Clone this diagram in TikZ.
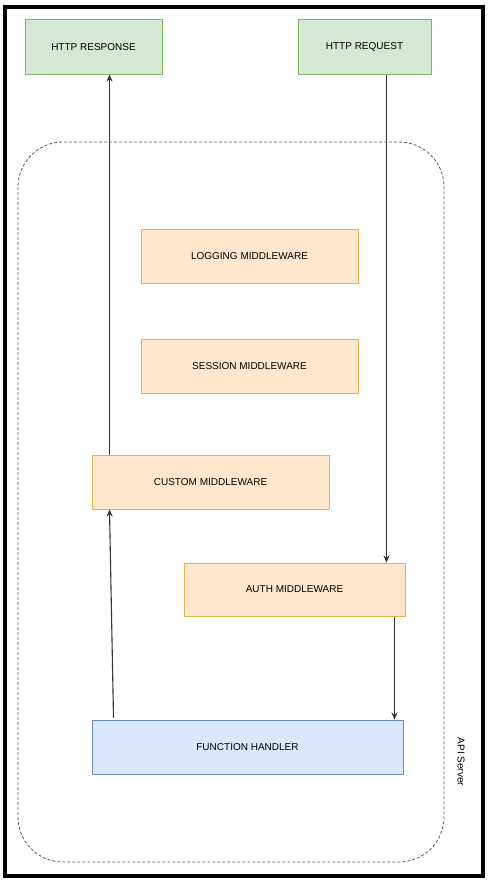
\documentclass[tikz,border=0pt]{standalone}
\usepackage{fontspec}
\setmainfont{Liberation Sans}
\usetikzlibrary{arrows.meta}
\definecolor{gfill}{HTML}{D5E8D4}
\definecolor{gline}{HTML}{82B366}
\definecolor{ofill}{HTML}{FFE6CC}
\definecolor{oline}{HTML}{E5B54A}
\definecolor{bfill}{HTML}{DAE8FC}
\definecolor{bline}{HTML}{6C8EBF}
\begin{document}
\begin{tikzpicture}[x=1pt,y=-1pt,
  box/.style={draw, line width=1pt, inner sep=0pt, font=\fontsize{10}{12}\selectfont},
  greenbox/.style={box, fill=gfill, draw=gline},
  orangebox/.style={box, fill=ofill, draw=oline},
  bluebox/.style={box, fill=bfill, draw=bline},
  conn/.style={draw=black!80, line width=1.1pt, -{Stealth[length=7pt,width=6pt]}}]
\useasboundingbox (0,0) rectangle (490,883);
\fill[white] (0,0) rectangle (490,883);
\draw[line width=3.5pt] (5,7) rectangle (483,876);
\draw[black!65, line width=0.8pt, dash pattern=on 3pt off 2pt, rounded corners=45pt] (18,142) rectangle (444,862);
\node[greenbox, minimum width=137pt, minimum height=54pt] (resp) at (93.5,47) {HTTP RESPONSE};
\node[greenbox, minimum width=133pt, minimum height=54pt] (req) at (364.5,47) {HTTP REQUEST};
\node[orangebox, minimum width=217pt, minimum height=54pt] (log) at (249.5,256) {LOGGING MIDDLEWARE};
\node[orangebox, minimum width=217pt, minimum height=54pt] (sess) at (249.5,366) {SESSION MIDDLEWARE};
\node[orangebox, minimum width=237pt, minimum height=54pt] (cust) at (210.5,482) {CUSTOM MIDDLEWARE};
\node[orangebox, minimum width=221pt, minimum height=53pt] (auth) at (294.5,589.5) {AUTH MIDDLEWARE};
\node[bluebox, minimum width=311pt, minimum height=54pt] (func) at (247.5,747) {FUNCTION HANDLER};
\node[rotate=-90, font=\fontsize{10}{12}\selectfont] (api) at (461,762) {API Server};
\draw[conn] (cust.north west) ++(18,0) coordinate (c1) -- (c1 |- resp.south);
\draw[conn] (req.south west) ++(89,0) coordinate (r1) -- (r1 |- auth.north);
\draw[conn] (auth.south west) ++(211,0) coordinate (a1) -- (a1 |- func.north);
\draw[conn] (func.north west) ++(22,-2) coordinate (f1) -- ([xshift=18pt]cust.south west);
\end{tikzpicture}
\end{document}
